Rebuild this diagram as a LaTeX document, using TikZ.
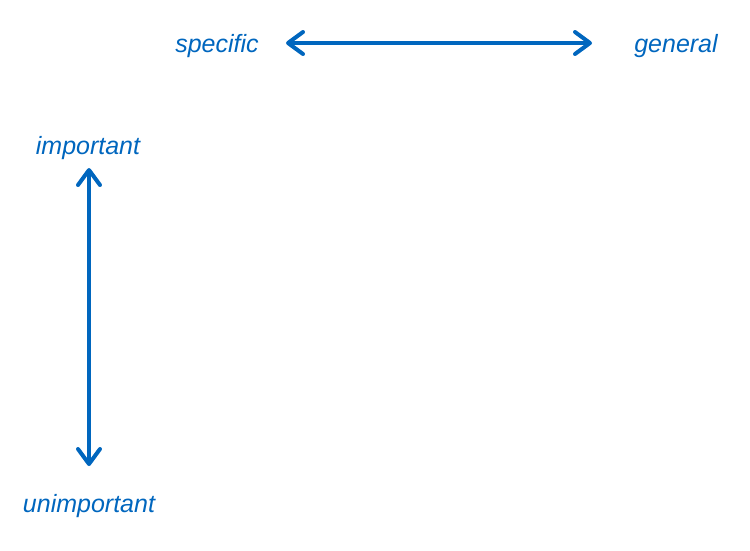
\documentclass[tikz,border=0pt]{standalone}
\usepackage{fontspec}
\setmainfont{Liberation Sans}
\usetikzlibrary{arrows.meta}
\definecolor{axisblue}{RGB}{0,102,190}
\begin{document}
\begin{tikzpicture}[x=1pt,y=-1pt,
  lbl/.style={text=axisblue,font=\fontsize{25}{30}\selectfont\itshape,inner sep=0pt,anchor=center},
  axis/.style={draw=axisblue,line width=4pt,{Straight Barb[length=15pt,width=22pt,round]}-{Straight Barb[length=15pt,width=22pt,round]}}]
\useasboundingbox (0,0) rectangle (750,550);
\node[lbl] (spec) at (217,46) {specific};
\node[lbl] (gen) at (676,46) {general};
\node[lbl] (imp) at (88,148) {important};
\node[lbl] (unimp) at (89,506) {unimportant};
\coordinate (h1) at (286,43);
\coordinate (h2) at (592,43);
\coordinate (v1) at (89,168);
\coordinate (v2) at (89,466);
\draw[axis] (h1) -- (h2);
\draw[axis] (v1) -- (v2);
\end{tikzpicture}
\end{document}
